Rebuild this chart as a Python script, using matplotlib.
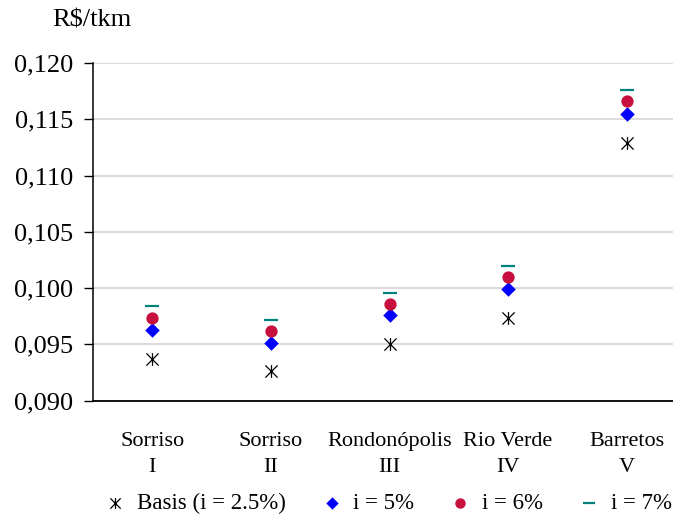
import numpy as np
import matplotlib.pyplot as plt
from matplotlib.path import Path

# Data
categories = ["Sorriso\nI", "Sorriso\nII", "Rondonópolis\nIII", "Rio Verde\nIV", "Barretos\nV"]
basis = [0.0937, 0.0926, 0.0950, 0.0973, 0.1129]
i5 = [0.0963, 0.0951, 0.0976, 0.0999, 0.1155]
i6 = [0.0973, 0.0962, 0.0986, 0.1010, 0.1166]
i7 = [0.0984, 0.0972, 0.0996, 0.1020, 0.1176]
yticks = [0.090, 0.095, 0.100, 0.105, 0.110, 0.115, 0.120]

plt.rcParams["font.family"] = ["Liberation Serif", "DejaVu Serif"]

# star marker: an X with a vertical bar
star = Path([(-1, -1), (1, 1), (-1, 1), (1, -1), (0, -1.05), (0, 1.05)],
            [Path.MOVETO, Path.LINETO, Path.MOVETO, Path.LINETO, Path.MOVETO, Path.LINETO])

fig = plt.figure(figsize=(6.73, 5.17), dpi=100)
ax = fig.add_axes([93 / 673, 1 - 400.5 / 517, 593 / 673, (400.5 - 63) / 517])

x = np.arange(len(categories))
ax.scatter(x, basis, marker=star, s=85, color="black", linewidths=0.9,
           label="Basis (i = 2.5%)", zorder=3)
ax.scatter(x, i5, marker="D", s=55, color="#0000FF", linewidths=0,
           label="i = 5%", zorder=3)
ax.scatter(x, i6, marker="o", s=78, color="#C8103E", linewidths=0,
           label="i = 6%", zorder=3)
ax.scatter(x, i7, marker="_", s=90, color="#00807A", linewidths=1.6,
           label="i = 7%", zorder=3)

ax.set_xlim(-0.5, len(categories) - 0.5)
ax.set_ylim(0.090, 0.120)
ax.set_yticks(yticks)
ax.set_yticklabels([f"{v:.3f}".replace(".", ",") for v in yticks], fontsize=19)
ax.set_xticks(x)
ax.set_xticklabels(categories, fontsize=16, linespacing=1.5)
ax.tick_params(axis="x", length=0, pad=23)
ax.tick_params(axis="y", direction="out", length=6.5, width=1, pad=8)

ax.grid(axis="y", color="#d4d4d4", linewidth=1.2)
ax.set_axisbelow(True)
for s in ["top", "right"]:
    ax.spines[s].set_visible(False)
ax.spines["left"].set_linewidth(1.1)
ax.spines["bottom"].set_linewidth(1.3)

fig.text(92 / 673, 1 - 20 / 517, "R$/tkm", fontsize=19, ha="center", va="center")

fig.legend(loc="center", bbox_to_anchor=(386 / 673, 1 - 503 / 517), ncol=4,
           frameon=False, fontsize=16.5, handletextpad=0.3, columnspacing=1.35,
           borderaxespad=0, handlelength=1.3, markerscale=0.85)

fig.savefig("out.png", dpi=100)
